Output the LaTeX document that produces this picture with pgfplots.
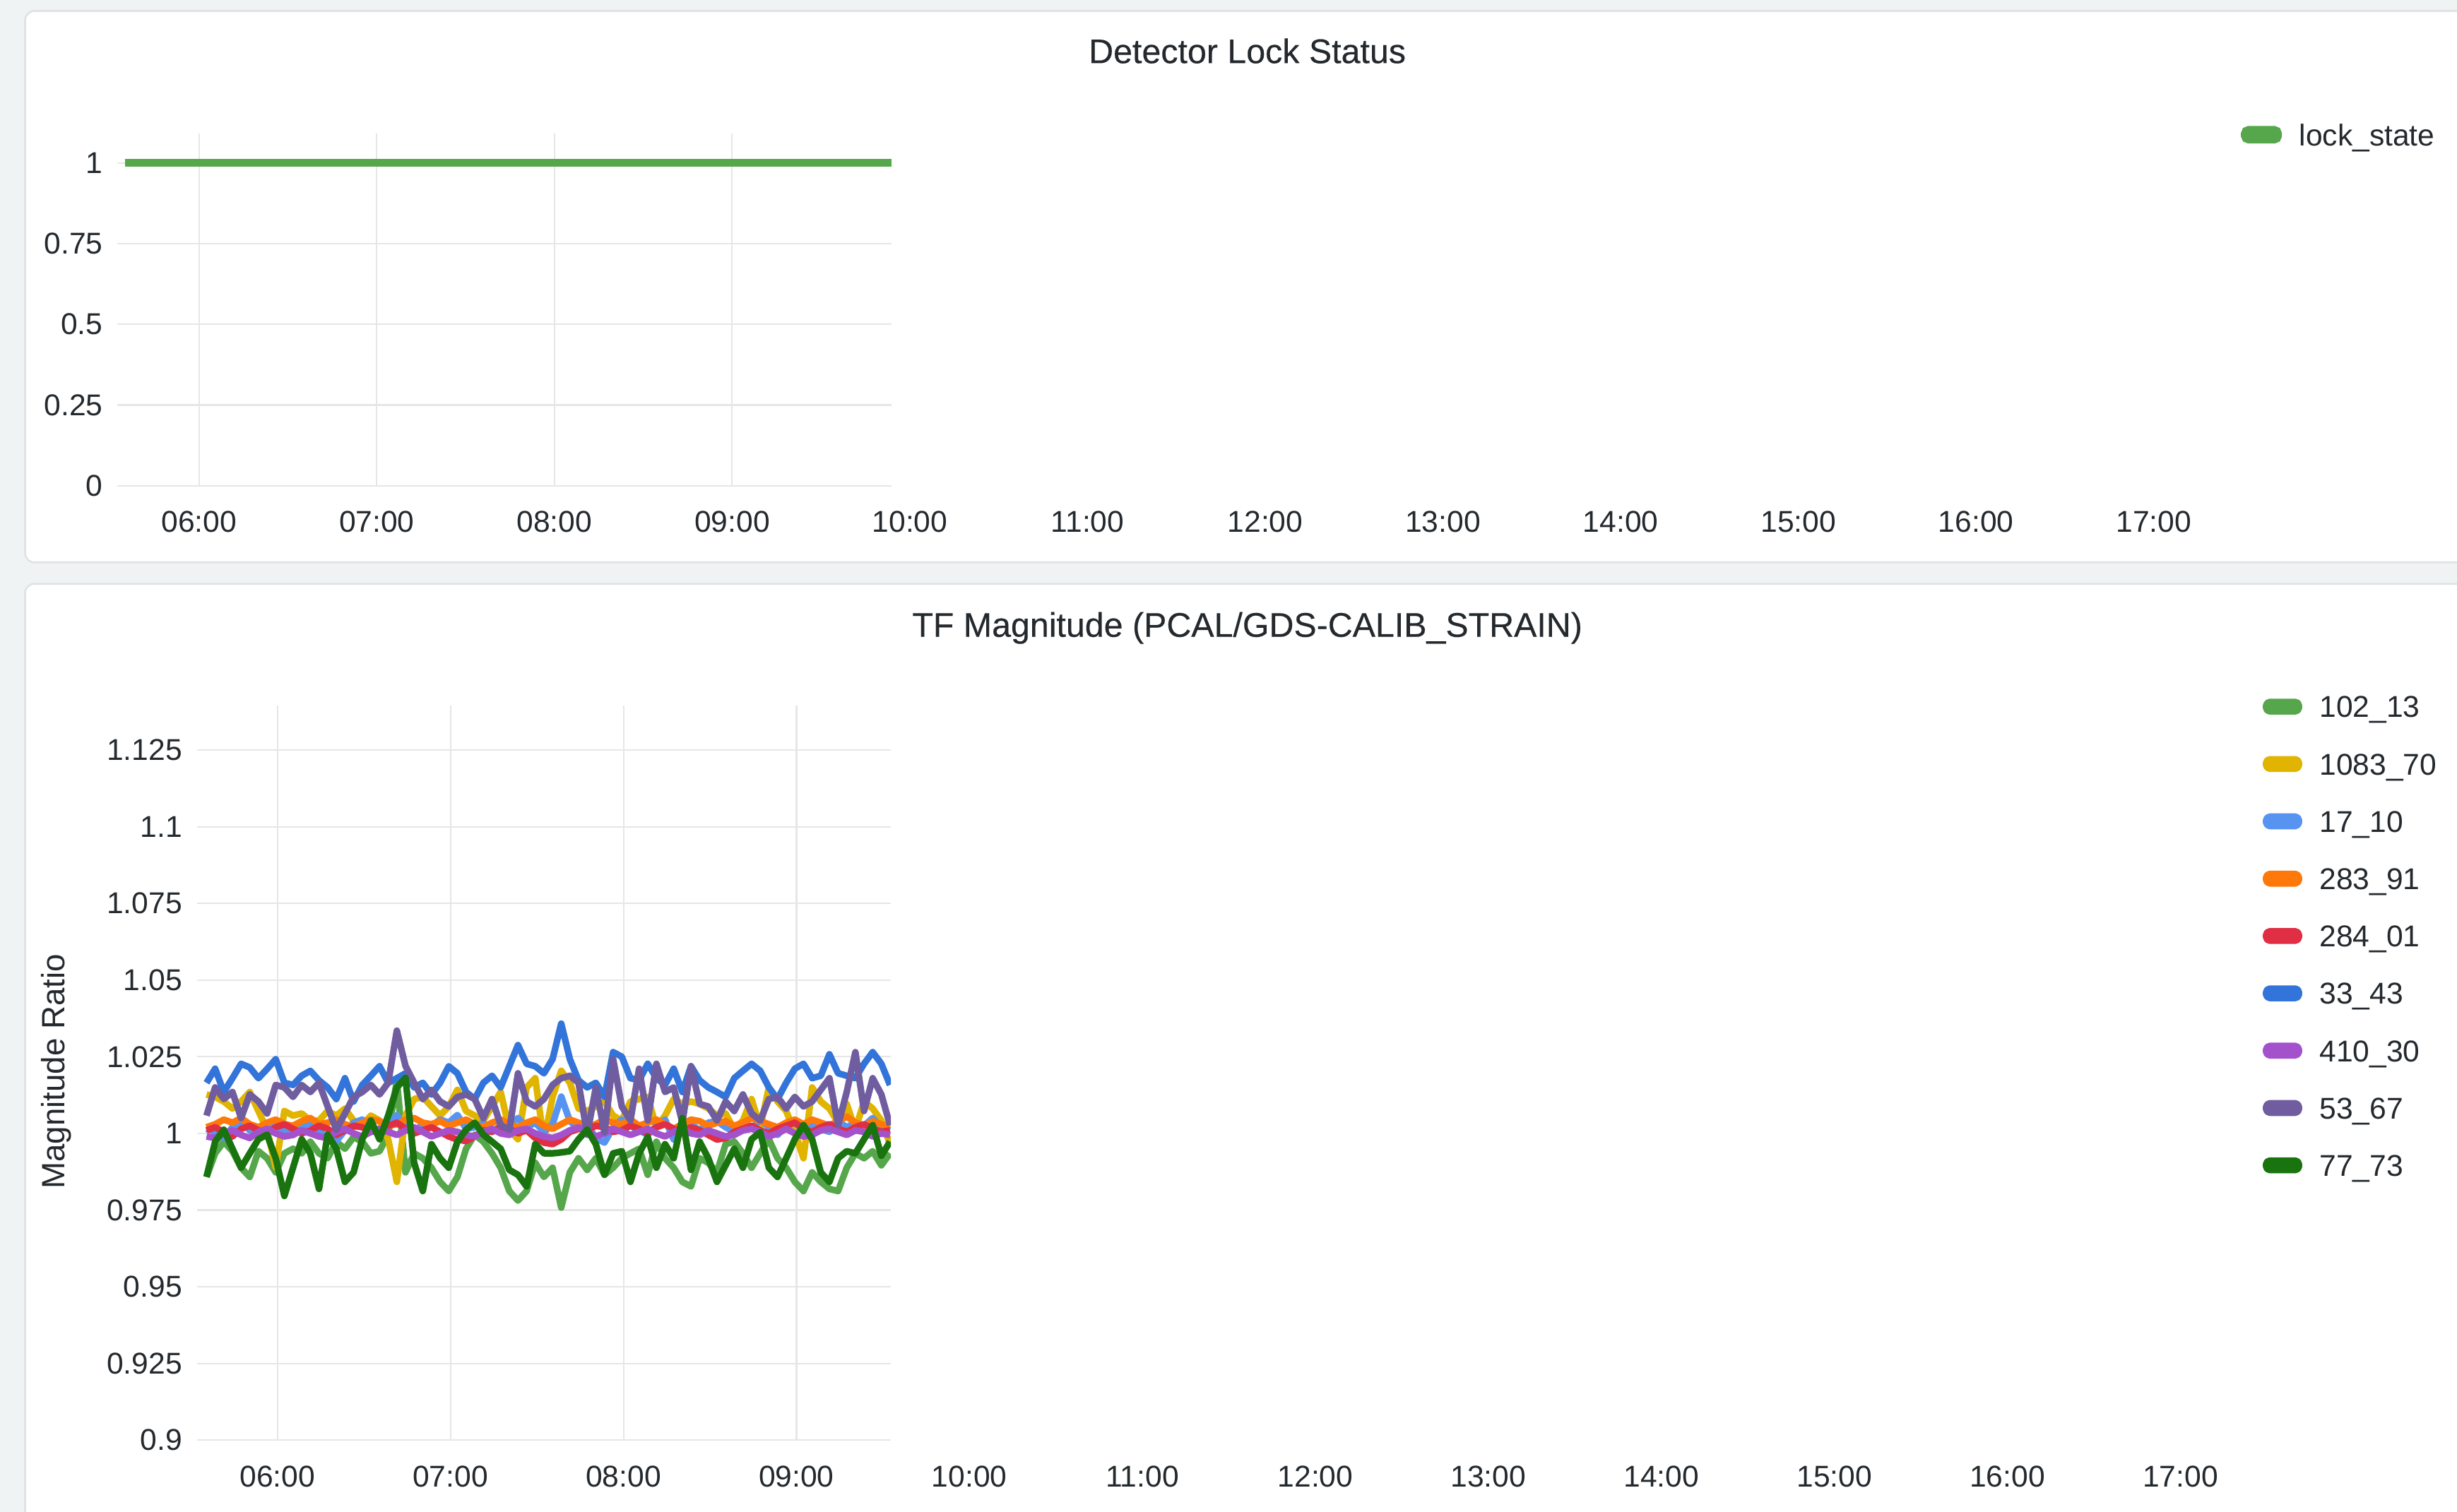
\documentclass[border=0pt]{standalone}
\usepackage{pgfplots}
\pgfplotsset{compat=1.18}
\usepackage{pgfplotstable}
\usepackage{fontspec}
\setmainfont{Liberation Sans}
\newfontfamily\titlefont{Liberation Sans}[FakeBold=0.3]

\definecolor{pagebg}{HTML}{F0F3F3}
\definecolor{panelline}{HTML}{DFE3E4}
\definecolor{txt}{HTML}{24292E}
\definecolor{gridc}{HTML}{E6E6E6}
\definecolor{c102}{HTML}{56A64B}
\definecolor{c1083}{HTML}{E0B400}
\definecolor{c17}{HTML}{5794F2}
\definecolor{c283}{HTML}{FF780A}
\definecolor{c284}{HTML}{E02F44}
\definecolor{c33}{HTML}{3274D9}
\definecolor{c410}{HTML}{A352CC}
\definecolor{c53}{HTML}{705DA0}
\definecolor{c77}{HTML}{19730E}

% hours (decimal) against magnitude ratio, one column per calibration line
\pgfplotstableread{
t    g102   y1083  b17    o283   r284   b33    p410   p53    g77
5.59 0.9858 1.0127 1.0015 1.0020 1.0010 1.0165 0.9990 1.0058 0.9858
5.64 0.9935 1.0119 1.0005 1.0030 1.0020 1.0211 0.9985 1.0150 0.9973
5.69 0.9973 1.0104 0.9985 1.0045 1.0005 1.0135 1.0000 1.0112 1.0012
5.74 0.9942 1.0081 1.0020 1.0035 0.9990 1.0180 1.0010 1.0135 0.9950
5.79 0.9888 1.0104 1.0040 1.0050 1.0015 1.0227 0.9995 1.0050 0.9888
5.84 0.9858 1.0135 1.0010 1.0030 1.0025 1.0215 0.9985 1.0127 0.9935
5.89 0.9942 1.0073 0.9990 1.0020 1.0010 1.0180 1.0005 1.0104 0.9981
5.94 0.9919 1.0012 1.0025 1.0035 1.0000 1.0210 1.0015 1.0065 0.9996
5.99 0.9873 0.9889 1.0030 1.0045 1.0020 1.0242 1.0000 1.0158 0.9919
6.04 0.9935 1.0073 1.0005 1.0030 1.0030 1.0165 0.9990 1.0150 0.9796
6.09 0.9950 1.0058 0.9995 1.0025 1.0015 1.0158 0.9995 1.0119 0.9888
6.14 0.9935 1.0065 1.0020 1.0040 1.0000 1.0188 1.0010 1.0158 0.9981
6.19 0.9973 1.0042 1.0035 1.0050 1.0010 1.0204 1.0000 1.0135 0.9935
6.24 0.9935 1.0042 1.0010 1.0030 1.0025 1.0173 0.9990 1.0165 0.9819
6.29 0.9919 1.0073 0.9980 1.0035 1.0015 1.0150 0.9985 1.0088 0.9996
6.34 0.9973 1.0058 0.9975 1.0045 0.9995 1.0112 1.0005 1.0012 0.9950
6.39 0.9950 1.0081 1.0010 1.0030 1.0010 1.0180 1.0015 1.0065 0.9842
6.44 0.9988 1.0042 1.0035 1.0020 1.0025 1.0104 1.0000 1.0119 0.9873
6.49 0.9973 1.0027 1.0045 1.0035 1.0020 1.0158 0.9990 1.0135 0.9981
6.54 0.9935 1.0058 1.0020 1.0045 1.0005 1.0188 1.0005 1.0158 1.0042
6.59 0.9942 1.0042 1.0005 1.0040 1.0010 1.0219 1.0015 1.0127 0.9981
6.64 0.9996 0.9981 1.0030 1.0025 1.0025 1.0165 1.0005 1.0165 1.0058
6.69 1.0173 0.9842 1.0060 1.0030 1.0035 1.0180 0.9995 1.0335 1.0150
6.74 0.9873 1.0058 1.0020 1.0045 1.0015 1.0196 1.0010 1.0220 1.0181
6.79 0.9935 1.0112 1.0005 1.0050 1.0000 1.0150 1.0020 1.0165 0.9904
6.84 0.9919 1.0119 1.0030 1.0035 1.0010 1.0165 1.0005 1.0112 0.9812
6.89 0.9888 1.0088 1.0025 1.0030 1.0020 1.0127 0.9990 1.0142 0.9965
6.94 0.9842 1.0058 1.0045 1.0040 1.0005 1.0165 1.0000 1.0104 0.9919
6.99 0.9812 1.0088 1.0035 1.0025 0.9990 1.0219 1.0010 1.0088 0.9888
7.04 0.9858 1.0142 1.0060 1.0035 0.9980 1.0196 1.0005 1.0119 0.9973
7.09 0.9950 1.0073 1.0015 1.0045 0.9975 1.0135 0.9995 1.0127 1.0012
7.14 0.9996 1.0058 1.0020 1.0030 0.9990 1.0112 0.9990 1.0112 1.0035
7.19 0.9973 1.0042 1.0035 1.0020 1.0010 1.0165 1.0005 1.0050 0.9996
7.24 0.9935 1.0088 1.0005 1.0035 1.0005 1.0188 1.0015 1.0112 0.9973
7.29 0.9888 1.0135 1.0025 1.0045 1.0020 1.0150 1.0000 1.0027 0.9950
7.34 0.9812 1.0012 1.0030 1.0030 1.0015 1.0219 0.9995 1.0012 0.9881
7.39 0.9781 0.9981 1.0050 1.0020 1.0000 1.0288 1.0010 1.0196 0.9865
7.44 0.9812 1.0150 1.0020 1.0035 1.0010 1.0227 1.0015 1.0104 0.9827
7.49 0.9904 1.0180 1.0035 1.0045 0.9985 1.0219 1.0000 1.0088 0.9965
7.54 0.9858 0.9973 1.0005 1.0025 0.9970 1.0196 0.9990 1.0112 0.9935
7.59 0.9888 1.0119 1.0030 1.0015 0.9965 1.0242 0.9985 1.0158 0.9935
7.64 0.9758 1.0204 1.0120 1.0030 0.9980 1.0358 0.9995 1.0180 0.9938
7.69 0.9873 1.0165 1.0040 1.0045 1.0005 1.0242 1.0010 1.0188 0.9942
7.74 0.9919 1.0081 1.0015 1.0035 1.0015 1.0173 1.0020 1.0165 0.9981
7.79 0.9881 1.0073 1.0030 1.0020 1.0010 1.0150 1.0005 0.9996 1.0012
7.84 0.9919 1.0088 0.9985 1.0030 1.0025 1.0165 0.9990 1.0150 0.9965
7.89 0.9865 1.0104 0.9970 1.0045 1.0020 1.0119 1.0000 1.0004 0.9865
7.94 0.9888 1.0058 1.0020 1.0035 1.0005 1.0265 1.0015 1.0242 0.9935
7.99 0.9919 1.0042 1.0045 1.0030 1.0010 1.0250 1.0005 1.0088 0.9942
8.04 0.9935 1.0104 1.0025 1.0045 1.0025 1.0180 0.9995 1.0042 0.9842
8.09 0.9950 1.0112 1.0010 1.0025 1.0015 1.0173 1.0005 1.0211 0.9935
8.14 0.9865 1.0119 0.9995 1.0035 1.0000 1.0227 1.0015 1.0042 0.9988
8.19 0.9973 1.0019 1.0025 1.0045 1.0020 1.0180 1.0000 1.0227 0.9888
8.24 0.9919 1.0058 1.0045 1.0030 1.0030 1.0158 0.9990 1.0135 0.9965
8.29 0.9888 1.0112 0.9980 1.0015 1.0015 1.0211 1.0005 1.0150 0.9919
8.34 0.9842 1.0096 1.0015 1.0030 1.0005 1.0135 1.0015 1.0035 1.0050
8.39 0.9827 1.0104 1.0030 1.0045 1.0020 1.0219 1.0000 1.0219 0.9881
8.44 0.9919 1.0096 1.0010 1.0040 1.0010 1.0173 0.9995 1.0096 0.9973
8.49 0.9904 1.0081 1.0035 1.0025 0.9995 1.0150 1.0010 1.0088 0.9919
8.54 0.9873 1.0058 1.0040 1.0035 0.9980 1.0135 1.0000 1.0042 0.9842
8.59 0.9965 1.0065 1.0020 1.0040 0.9985 1.0119 0.9990 1.0104 0.9896
8.64 0.9973 1.0012 1.0005 1.0025 1.0005 1.0180 0.9995 1.0073 0.9950
8.69 0.9935 1.0042 1.0030 1.0035 1.0015 1.0204 1.0010 1.0127 0.9888
8.74 0.9888 1.0112 1.0015 1.0050 1.0025 1.0227 1.0015 1.0065 0.9981
8.79 0.9935 1.0019 1.0045 1.0040 1.0010 1.0204 1.0005 1.0042 1.0004
8.84 0.9981 1.0150 1.0020 1.0030 1.0000 1.0150 0.9990 1.0112 0.9888
8.89 0.9919 1.0104 0.9995 1.0020 1.0015 1.0112 1.0000 1.0119 0.9858
8.94 0.9888 1.0073 1.0025 1.0035 1.0025 1.0165 1.0015 1.0081 0.9919
8.99 0.9842 1.0004 1.0035 1.0045 1.0035 1.0211 1.0000 1.0119 0.9981
9.04 0.9812 0.9919 1.0010 1.0030 1.0015 1.0227 0.9990 1.0088 1.0027
9.09 0.9873 1.0150 1.0030 1.0045 1.0005 1.0180 0.9995 1.0104 0.9981
9.14 0.9842 1.0104 1.0015 1.0035 1.0020 1.0188 1.0010 1.0142 0.9873
9.19 0.9819 1.0081 1.0005 1.0025 1.0030 1.0258 1.0015 1.0180 0.9842
9.24 0.9812 1.0035 1.0040 1.0040 1.0015 1.0196 1.0005 1.0027 0.9919
9.29 0.9888 1.0096 1.0020 1.0055 1.0005 1.0188 0.9995 1.0135 0.9942
9.34 0.9935 1.0012 1.0035 1.0035 1.0020 1.0180 1.0010 1.0265 0.9935
9.39 0.9919 1.0104 1.0025 1.0025 1.0030 1.0227 1.0005 1.0073 0.9981
9.44 0.9942 1.0081 1.0050 1.0040 1.0015 1.0265 0.9990 1.0180 1.0027
9.49 0.9896 1.0042 1.0020 1.0030 1.0005 1.0227 1.0000 1.0127 0.9927
9.54 0.9935 0.9965 1.0010 1.0020 1.0010 1.0158 0.9995 1.0027 0.9973
}\tfdata

\pgfplotsset{
  panel/.style={
    scale only axis,
    axis line style={draw=none},
    major tick length=0pt,
    every tick label/.append style={font=\fontsize{9.6bp}{11bp}\selectfont, text=txt},
    xticklabel style={inner sep=0pt, anchor=north, yshift=-8bp},
    yticklabel style={inner sep=0pt, anchor=east, xshift=-4.5bp},
    grid style={gridc, line width=0.5bp},
    legend cell align=left,
    legend style={draw=none, fill=none, inner sep=0pt, outer sep=0pt,
      row sep=11.4bp, font=\fontsize{9.6bp}{11bp}\selectfont, text=txt,
      nodes={inner sep=0pt, text height=6.9bp, text depth=0pt},
      /tikz/every odd column/.append style={column sep=5.5bp}},
    legend image code/.code={\fill[rounded corners=1.2bp] (0bp,-1.5bp) rectangle (10.5bp,1.5bp);},
  },
  hourlabels/.style={
    panel,
    ymin=0, ymax=1, ytick=\empty,
    xtick={6,7,8,9,10,11,12,13,14,15,16,17},
    xticklabels={06:00,07:00,08:00,09:00,10:00,11:00,12:00,13:00,14:00,15:00,16:00,17:00},
  },
  tfline/.style={line width=2.1bp, line join=round},
}

\begin{document}
\begin{tikzpicture}
\begin{scope}[x=0.5bp, y=-0.5bp]
  \useasboundingbox (0,0) rectangle (1568,965);
  \clip (0,0) rectangle (1568,965);
  \fill[pagebg] (0,0) rectangle (1568,965);
  \draw[panelline, fill=white, line width=0.6bp, rounded corners=3bp] (16,7) rectangle (1600,359);
  \draw[panelline, fill=white, line width=0.6bp, rounded corners=3bp] (16,372.7) rectangle (1600,1000);
  \node[anchor=base, inner sep=0pt, text=txt, font=\titlefont\fontsize{10.9bp}{13bp}\selectfont]
    at (796,40.3) {Detector Lock Status};
  \node[anchor=base, inner sep=0pt, text=txt, font=\titlefont\fontsize{10.9bp}{13bp}\selectfont]
    at (796,406.5) {TF Magnitude (PCAL/GDS-CALIB\_STRAIN)};
\end{scope}

% top panel: plot area
\begin{axis}[panel,
  at={(37.5bp,-155bp)}, anchor=south west,
  width=247bp, height=112.5bp,
  xmin=5.541, xmax=9.898, ymin=0, ymax=1.092,
  xtick={6,7,8,9}, xticklabels={},
  ytick={0,0.25,0.5,0.75,1}, yticklabels={0,0.25,0.5,0.75,1},
  grid=major,
  legend style={at={(axis description cs:2.743,0.9956)}, anchor=west},
]
  \addplot[c102, line width=2.6bp, line cap=butt] coordinates {(5.582,1) (9.898,1)};
  \addlegendentry{lock\_state}
\end{axis}
% top panel: time labels
\begin{axis}[hourlabels,
  at={(37.5bp,-155bp)}, anchor=south west,
  width=672.5bp, height=112.5bp,
  xmin=5.541, xmax=17.402,
]
\end{axis}

% bottom panel: plot area
\begin{axis}[panel,
  at={(62.8bp,-459.65bp)}, anchor=south west,
  width=221.45bp, height=234.55bp,
  xmin=5.534, xmax=9.545, ymin=0.9, ymax=1.1396,
  xtick={6,7,8,9}, xticklabels={},
  ytick={0.9,0.925,0.95,0.975,1,1.025,1.05,1.075,1.1,1.125},
  yticklabels={0.9,0.925,0.95,0.975,1,1.025,1.05,1.075,1.1,1.125},
  grid=major,
  ylabel={Magnitude Ratio},
  ylabel style={at={(axis description cs:-0.2023,0.5016)}, anchor=center,
    inner sep=0pt, font=\fontsize{10.3bp}{12bp}\selectfont, text=txt},
  legend style={at={(axis description cs:2.9767,0.686)}, anchor=west},
]
  \addplot[c102,  tfline] table[x=t, y=g102]  {\tfdata}; \addlegendentry{102\_13}
  \addplot[c1083, tfline] table[x=t, y=y1083] {\tfdata}; \addlegendentry{1083\_70}
  \addplot[c17,   tfline] table[x=t, y=b17]   {\tfdata}; \addlegendentry{17\_10}
  \addplot[c283,  tfline] table[x=t, y=o283]  {\tfdata}; \addlegendentry{283\_91}
  \addplot[c284,  tfline] table[x=t, y=r284]  {\tfdata}; \addlegendentry{284\_01}
  \addplot[c33,   tfline] table[x=t, y=b33]   {\tfdata}; \addlegendentry{33\_43}
  \addplot[c410,  tfline] table[x=t, y=p410]  {\tfdata}; \addlegendentry{410\_30}
  \addplot[c53,   tfline] table[x=t, y=p53]   {\tfdata}; \addlegendentry{53\_67}
  \addplot[c77,   tfline] table[x=t, y=g77]   {\tfdata}; \addlegendentry{77\_73}
\end{axis}
% bottom panel: time labels
\begin{axis}[hourlabels,
  at={(62.8bp,-459.65bp)}, anchor=south west,
  width=647.2bp, height=234.55bp,
  xmin=5.534, xmax=17.259,
]
\end{axis}
\end{tikzpicture}
\end{document}
